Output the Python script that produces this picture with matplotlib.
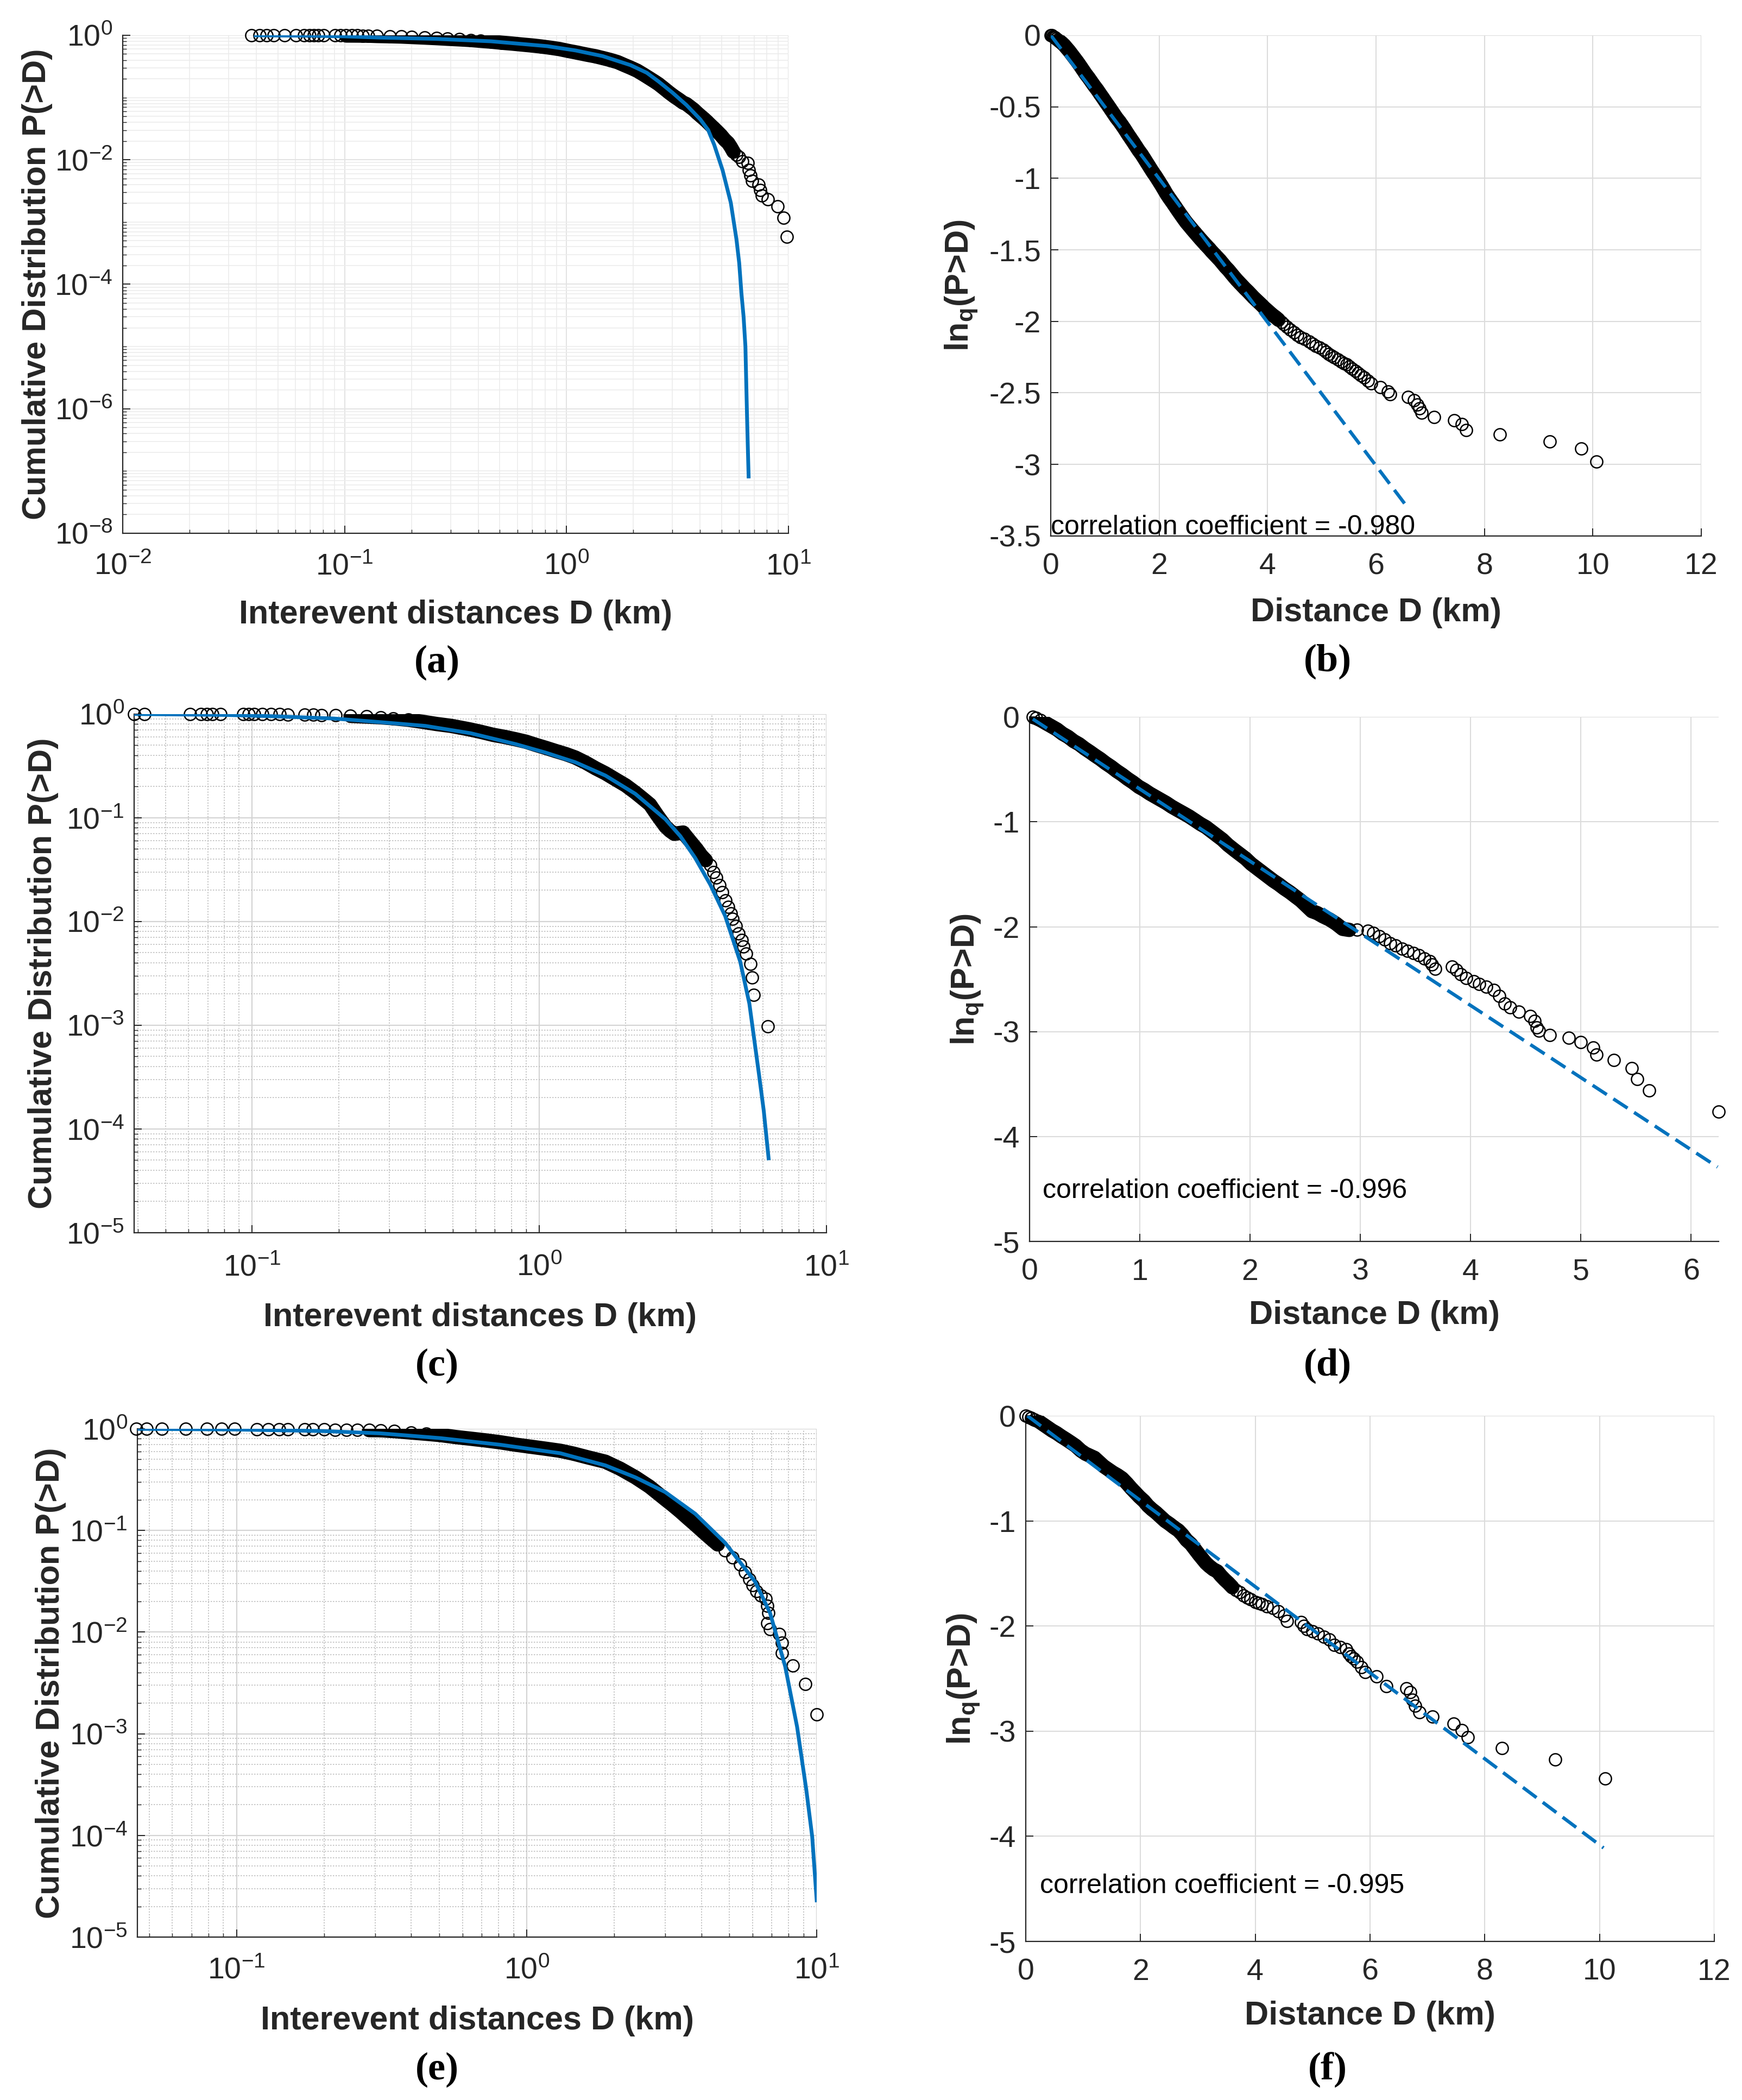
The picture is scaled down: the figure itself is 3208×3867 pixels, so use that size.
import matplotlib
matplotlib.use('Agg')
import matplotlib.pyplot as plt
from matplotlib.ticker import LogLocator, NullFormatter, FuncFormatter
import numpy as np

plt.rcParams['font.family'] = ['Liberation Sans', 'DejaVu Sans']
plt.rcParams['mathtext.fontset'] = 'custom'
plt.rcParams['mathtext.rm'] = 'Liberation Sans'
plt.rcParams['mathtext.bf'] = 'Liberation Sans:bold'
plt.rcParams['mathtext.it'] = 'Liberation Sans:italic'
plt.rcParams['axes.unicode_minus'] = False

# ---------------- panel (a): cumulative distribution, log-log ----------------
a_dist = [0.038, 0.0414, 0.0446, 0.0479, 0.0537, 0.0603, 0.0657, 0.0697, 0.0726, 0.076,
          0.0806, 0.0904, 0.0959, 0.1016, 0.1077, 0.1141, 0.1208, 0.128,
          0.14, 0.16, 0.18, 0.20, 0.23, 0.26, 0.29, 0.33, 0.37, 0.41, 0.46, 0.51, 0.57,
          0.63, 0.70, 0.77, 0.85, 0.93, 1.02, 1.12, 1.23, 1.35, 1.46, 1.58, 1.70, 1.83,
          1.95, 2.08, 2.22, 2.36, 2.50, 2.60, 2.75, 2.90, 3.06, 3.22, 3.35, 3.47, 3.60,
          3.74, 3.87, 4.01, 4.15, 4.30, 4.46, 4.63, 4.80, 4.98, 5.16, 5.35, 5.50, 5.65,
          5.83, 6.00, 6.18, 6.55, 6.64, 6.74, 6.84, 7.35, 7.46, 7.57, 8.06, 8.95, 9.53, 9.86]
a_prob = [1.0, 1.0, 0.999, 0.999, 0.998, 0.998, 0.997, 0.997, 0.996, 0.995,
          0.995, 0.994, 0.993, 0.992, 0.991, 0.99, 0.988, 0.986,
          0.975, 0.965, 0.955, 0.94, 0.92, 0.90, 0.88, 0.86, 0.84, 0.815, 0.79, 0.76, 0.735,
          0.71, 0.685, 0.66, 0.63, 0.60, 0.56, 0.525, 0.49, 0.46, 0.43, 0.40, 0.37, 0.33,
          0.30, 0.27, 0.235, 0.205, 0.18, 0.164, 0.14, 0.12, 0.104, 0.092, 0.083, 0.0785, 0.071,
          0.064, 0.057, 0.051, 0.046, 0.041, 0.036, 0.0318, 0.028, 0.0245, 0.021, 0.0186, 0.016, 0.0135,
          0.012, 0.011, 0.0095, 0.0089, 0.0068, 0.0056, 0.0046, 0.0040, 0.00326, 0.00267, 0.00233,
          0.00178, 0.00118, 0.00058]
a_fit_dist = [0.039, 0.07, 0.10, 0.145, 0.258, 0.458, 0.818, 1.10, 1.455, 1.945, 2.30, 2.60,
              3.00, 3.47, 4.01, 4.35, 4.63, 5.05, 5.50, 5.83, 6.00, 6.14, 6.28, 6.40, 6.45,
              6.50, 6.56, 6.62]
a_fit_prob = [1.0, 0.985, 0.96, 0.917, 0.875, 0.80, 0.669, 0.57, 0.463, 0.331, 0.25, 0.181,
              0.12, 0.0759, 0.0444, 0.030, 0.0174, 0.0068, 0.00204, 5.3e-4, 2.2e-4, 7.2e-5,
              3.0e-5, 1.0e-5, 3.0e-6, 9.1e-7, 2.5e-7, 7.6e-8]

# ---------------- panel (b): ln_q(P>D) vs distance ----------------
b_dist = [0.00, 0.02, 0.04, 0.06, 0.08, 0.10, 0.13, 0.16, 0.20, 0.25, 0.29, 0.34, 0.39, 0.44,
          0.49, 0.54, 0.59, 0.64, 0.70, 0.75, 0.80, 0.86, 0.91, 0.96, 1.01, 1.06, 1.11, 1.16,
          1.21, 1.27, 1.32, 1.37, 1.42, 1.47, 1.52, 1.57, 1.62, 1.68, 1.73, 1.78, 1.83, 1.88,
          1.94, 1.99, 2.04, 2.09, 2.14, 2.19, 2.25, 2.30, 2.35, 2.40, 2.45, 2.50, 2.56, 2.61,
          2.66, 2.71, 2.76, 2.81, 2.86, 2.92, 2.97, 3.02, 3.07, 3.12, 3.17, 3.22, 3.28, 3.33,
          3.38, 3.43, 3.48, 3.53, 3.58, 3.64, 3.69, 3.74, 3.79, 3.84, 3.89, 3.94, 4.00, 4.05,
          4.10, 4.15, 4.20, 4.26, 4.30, 4.36, 4.42, 4.49, 4.55, 4.61, 4.68, 4.77, 4.83, 4.89,
          4.96, 5.03, 5.08, 5.13, 5.18, 5.23, 5.30, 5.36, 5.41, 5.46, 5.51, 5.56, 5.62, 5.67,
          5.72, 5.78, 5.85, 5.91, 6.08, 6.22, 6.26, 6.59, 6.70, 6.76, 6.80, 6.84, 7.07, 7.44,
          7.58, 7.66, 8.28, 9.21, 9.79, 10.07]
b_lnq = [0.000, -0.002, -0.006, -0.010, -0.016, -0.022, -0.030, -0.040, -0.052, -0.070, -0.088,
         -0.110, -0.135, -0.160, -0.185, -0.212, -0.240, -0.268, -0.298, -0.325, -0.352, -0.382,
         -0.410, -0.437, -0.465, -0.492, -0.520, -0.548, -0.576, -0.605, -0.632, -0.660, -0.690,
         -0.718, -0.746, -0.775, -0.804, -0.835, -0.865, -0.895, -0.925, -0.955, -0.988, -1.018,
         -1.048, -1.080, -1.112, -1.140, -1.172, -1.200, -1.228, -1.255, -1.282, -1.308, -1.335,
         -1.358, -1.380, -1.402, -1.424, -1.445, -1.466, -1.490, -1.512, -1.532, -1.552, -1.572,
         -1.595, -1.618, -1.642, -1.665, -1.688, -1.710, -1.730, -1.750, -1.770, -1.792, -1.812,
         -1.832, -1.850, -1.868, -1.886, -1.905, -1.925, -1.942, -1.958, -1.972, -1.988, -2.006,
         -2.020, -2.040, -2.058, -2.078, -2.094, -2.110, -2.124, -2.140, -2.155, -2.170, -2.185,
         -2.200, -2.215, -2.228, -2.240, -2.252, -2.265, -2.280, -2.292, -2.302, -2.315, -2.330,
         -2.345, -2.360, -2.375, -2.392, -2.415, -2.435, -2.460, -2.490, -2.510, -2.530, -2.550,
         -2.580, -2.610, -2.640, -2.670, -2.690, -2.720, -2.760, -2.790, -2.840, -2.890, -2.980]
b_fit_dist = [0.0, 6.6]
b_fit_lnq = [0.0, -3.31]
b_corr = '-0.980'

# ---------------- panel (c) ----------------
c_dist = [0.0388, 0.0421, 0.0607, 0.0664, 0.0695, 0.0726, 0.0776, 0.0929, 0.0972, 0.1016,
          0.1086, 0.1163, 0.1244, 0.133, 0.152, 0.163, 0.174, 0.195, 0.22, 0.25,
          0.28, 0.31, 0.35, 0.40, 0.44, 0.49, 0.53, 0.576, 0.63, 0.69, 0.76, 0.826, 0.90, 0.97,
          1.05, 1.14, 1.24, 1.334, 1.45, 1.57, 1.70, 1.84, 2.00, 2.16, 2.30, 2.43, 2.58, 2.75,
          2.85, 2.95, 3.06, 3.17, 3.28, 3.40, 3.53, 3.67, 3.80, 3.94, 4.04, 4.13, 4.24, 4.34,
          4.45, 4.55, 4.64, 4.72, 4.83, 4.95, 5.07, 5.13, 5.26, 5.45, 5.52, 5.58, 6.25]
c_prob = [1.0, 1.0, 0.999, 0.999, 0.998, 0.998, 0.997, 0.996, 0.995, 0.995,
          0.994, 0.993, 0.992, 0.99, 0.985, 0.982, 0.978, 0.97, 0.96, 0.945,
          0.93, 0.91, 0.88, 0.834, 0.80, 0.77, 0.74, 0.708, 0.67, 0.63, 0.60, 0.571, 0.54, 0.505,
          0.473, 0.44, 0.41, 0.381, 0.34, 0.30, 0.268, 0.235, 0.205, 0.175, 0.152, 0.134, 0.105,
          0.0824, 0.075, 0.070, 0.071, 0.072, 0.064, 0.0567, 0.050, 0.0431, 0.039, 0.0348, 0.030,
          0.0265, 0.0225, 0.0192, 0.016, 0.0139, 0.012, 0.0106, 0.0091, 0.0077, 0.0066, 0.0057,
          0.0049, 0.0039, 0.0029, 0.00195, 0.00097]
c_fit_dist = [0.0388, 0.08, 0.12, 0.192, 0.28, 0.401, 0.576, 0.826, 1.05, 1.334, 1.70, 2.16,
              2.75, 3.10, 3.49, 3.94, 4.44, 5.01, 5.39, 5.82, 6.05, 6.30]
c_fit_prob = [1.0, 0.98, 0.95, 0.905, 0.834, 0.768, 0.653, 0.513, 0.425, 0.343, 0.255, 0.170,
              0.0967, 0.0664, 0.041, 0.0227, 0.0113, 0.0041, 0.00162, 3.4e-4, 1.5e-4, 5.0e-5]

# ---------------- panel (d) ----------------
d_dist = [0.03, 0.06, 0.10, 0.15, 0.20, 0.25, 0.30, 0.35, 0.40, 0.45, 0.50, 0.55, 0.59, 0.64,
          0.69, 0.74, 0.79, 0.84, 0.89, 0.94, 0.99, 1.04, 1.09, 1.14, 1.19, 1.24, 1.29, 1.34,
          1.40, 1.45, 1.50, 1.55, 1.60, 1.65, 1.70, 1.75, 1.80, 1.86, 1.91, 1.96, 2.01, 2.06,
          2.11, 2.16, 2.21, 2.26, 2.31, 2.36, 2.41, 2.46, 2.51, 2.56, 2.61, 2.66, 2.72, 2.78,
          2.84, 2.90, 2.97, 3.07, 3.12, 3.17, 3.22, 3.27, 3.32, 3.38, 3.43, 3.48, 3.53, 3.58,
          3.63, 3.65, 3.68, 3.83, 3.87, 3.91, 3.96, 4.03, 4.08, 4.14, 4.21, 4.26, 4.31, 4.36,
          4.44, 4.54, 4.58, 4.60, 4.62, 4.72, 4.89, 5.00, 5.11, 5.14, 5.30, 5.46, 5.51, 5.62, 6.25]
d_lnq = [0.0, -0.01, -0.03, -0.06, -0.09, -0.12, -0.16, -0.19, -0.23, -0.26, -0.30, -0.335,
         -0.365, -0.40, -0.44, -0.475, -0.515, -0.55, -0.59, -0.625, -0.665, -0.695, -0.73,
         -0.76, -0.79, -0.82, -0.855, -0.885, -0.92, -0.95, -0.985, -1.02, -1.05, -1.09, -1.13,
         -1.17, -1.22, -1.27, -1.31, -1.35, -1.40, -1.44, -1.48, -1.52, -1.56, -1.595, -1.635,
         -1.67, -1.71, -1.75, -1.80, -1.85, -1.87, -1.90, -1.93, -1.97, -2.02, -2.03, -2.03,
         -2.04, -2.06, -2.09, -2.12, -2.16, -2.18, -2.21, -2.23, -2.25, -2.27, -2.30, -2.33,
         -2.36, -2.40, -2.38, -2.41, -2.45, -2.49, -2.52, -2.545, -2.57, -2.60, -2.66, -2.73,
         -2.77, -2.81, -2.85, -2.90, -2.96, -2.99, -3.03, -3.06, -3.10, -3.15, -3.22, -3.27,
         -3.35, -3.45, -3.56, -3.76]
d_fit_dist = [0.03, 6.24]
d_fit_lnq = [-0.02, -4.29]
d_corr = '-0.996'

# ---------------- panel (e) ----------------
e_dist = [0.0451, 0.0489, 0.0553, 0.0667, 0.0789, 0.0886, 0.0985, 0.1175, 0.1284, 0.1403,
          0.150, 0.1714, 0.1832, 0.200, 0.2187, 0.239, 0.261, 0.286,
          0.313, 0.35, 0.40, 0.45, 0.504, 0.57, 0.64, 0.72, 0.811, 0.91, 1.02, 1.15, 1.306, 1.45,
          1.62, 1.866, 2.10, 2.37, 2.65, 3.00, 3.18, 3.38, 3.58, 3.81, 4.04, 4.29, 4.55, 4.83,
          5.12, 5.44, 5.65, 5.85, 6.02, 6.20, 6.40, 6.66, 6.74, 6.82, 6.74, 6.90, 7.41, 7.59,
          7.59, 8.25, 9.14, 9.98]
e_prob = [1.0, 1.0, 0.999, 0.999, 0.998, 0.997, 0.996, 0.995, 0.994, 0.993,
          0.992, 0.99, 0.988, 0.985, 0.982, 0.979, 0.975, 0.972,
          0.97, 0.95, 0.92, 0.895, 0.869, 0.83, 0.80, 0.77, 0.737, 0.70, 0.67, 0.64, 0.608, 0.57,
          0.525, 0.475, 0.405, 0.333, 0.27, 0.203, 0.178, 0.154, 0.133, 0.114, 0.098, 0.0843,
          0.073, 0.064, 0.054, 0.0461, 0.039, 0.0331, 0.029, 0.0253, 0.023, 0.0213, 0.0182,
          0.0154, 0.0123, 0.0107, 0.0096, 0.0079, 0.0062, 0.0047, 0.0031, 0.00155]
e_fit_dist = [0.0455, 0.10, 0.20, 0.313, 0.504, 0.811, 1.306, 1.866, 2.37, 3.00, 3.81, 4.83,
              6.13, 6.90, 7.78, 8.55, 9.20, 9.64, 10.0]
e_fit_prob = [1.0, 0.985, 0.95, 0.903, 0.81, 0.697, 0.575, 0.437, 0.333, 0.239, 0.146, 0.0755,
              0.0313, 0.0154, 0.00459, 0.00117, 2.8e-4, 9.7e-5, 2.2e-5]

# ---------------- panel (f) ----------------
f_dist = [0.00, 0.05, 0.10, 0.15, 0.22, 0.30, 0.38, 0.46, 0.54, 0.62, 0.71, 0.79, 0.87, 0.96,
          1.04, 1.12, 1.20, 1.28, 1.36, 1.44, 1.52, 1.60, 1.68, 1.76, 1.84, 1.91, 1.98, 2.06,
          2.13, 2.20, 2.27, 2.35, 2.43, 2.51, 2.58, 2.66, 2.73, 2.80, 2.88, 2.95, 3.02, 3.08,
          3.14, 3.20, 3.27, 3.34, 3.40, 3.47, 3.53, 3.60, 3.66, 3.73, 3.80, 3.86, 3.92, 4.00,
          4.06, 4.12, 4.20, 4.31, 4.40, 4.51, 4.55, 4.80, 4.85, 4.90, 5.00, 5.09, 5.20, 5.29,
          5.38, 5.48, 5.58, 5.63, 5.67, 5.72, 5.77, 5.85, 5.92, 6.11, 6.28, 6.63, 6.70, 6.74,
          6.79, 6.86, 7.09, 7.46, 7.60, 7.70, 8.30, 9.23, 10.10]
f_lnq = [0.00, -0.01, -0.02, -0.035, -0.05, -0.08, -0.11, -0.14, -0.165, -0.195, -0.226, -0.255,
         -0.285, -0.33, -0.36, -0.38, -0.40, -0.44, -0.48, -0.51, -0.54, -0.565, -0.595, -0.64,
         -0.69, -0.73, -0.77, -0.81, -0.855, -0.89, -0.92, -0.96, -1.00, -1.03, -1.06, -1.09,
         -1.13, -1.18, -1.22, -1.27, -1.32, -1.36, -1.40, -1.43, -1.46, -1.48, -1.52, -1.56,
         -1.59, -1.63, -1.66, -1.68, -1.71, -1.73, -1.745, -1.77, -1.78, -1.79, -1.81, -1.83,
         -1.86, -1.90, -1.95, -1.96, -2.00, -2.03, -2.05, -2.07, -2.10, -2.13, -2.18, -2.20,
         -2.22, -2.26, -2.29, -2.31, -2.34, -2.39, -2.44, -2.48, -2.57, -2.59, -2.63, -2.70,
         -2.76, -2.82, -2.86, -2.93, -2.99, -3.06, -3.16, -3.27, -3.45]
f_fit_dist = [0.03, 10.07]
f_fit_lnq = [0.0, -4.11]
f_corr = '-0.995'

cdf_xlabel = 'Interevent distances D (km)'
cdf_ylabel = 'Cumulative Distribution P(>D)'
lnq_xlabel = 'Distance D (km)'
lnq_ylabel = r'ln$_{\mathbf{q}}$(P>D)'
panel_tags = ['a', 'b', 'c', 'd', 'e', 'f']

BLUE = '#0072BD'
DARK = '#262626'

fig = plt.figure(figsize=(32.08, 38.67), dpi=100)

# axes boxes in figure fractions [left, bottom, width, height]
boxes = {
    'a': [0.0704, 0.7461, 0.3822, 0.2371],
    'b': [0.6032, 0.7448, 0.3734, 0.2384],
    'c': [0.0770, 0.4130, 0.3974, 0.2470],
    'd': [0.5910, 0.4088, 0.3956, 0.2498],
    'e': [0.0789, 0.0776, 0.3900, 0.2420],
    'f': [0.5888, 0.0755, 0.3953, 0.2503],
}


def base_style(ax):
    for s in ['top', 'right']:
        ax.spines[s].set_visible(False)
    for s in ['left', 'bottom']:
        ax.spines[s].set_color(DARK)
        ax.spines[s].set_linewidth(1.6)
    ax.tick_params(which='major', direction='in', length=10, width=1.4, colors=DARK,
                   labelsize=40, labelcolor=DARK)
    ax.tick_params(which='minor', direction='in', length=5, width=1.0, colors=DARK)
    ax.tick_params(axis='y', which='major', pad=13)
    ax.set_axisbelow(True)


def circles(ax, d, v, solid):
    # where hundreds of markers overlap the band reads as solid black
    lo, hi = solid
    xs = [x for x in d if lo <= x <= hi]
    ys = [y for x, y in zip(d, v) if lo <= x <= hi]
    ax.plot(xs, ys, '-', color='black', lw=19, solid_capstyle='round',
            solid_joinstyle='round', zorder=2.9)
    ax.plot(d, v, 'o', mfc='none', mec='black', ms=16, mew=1.8, clip_on=False, zorder=3)


def cdf_panel(ax, d, p, fd, fp, solid, xlim, ylim, xticks, yticks, dotted_minor, xpad, ylab_x, xlab_y):
    circles(ax, d, p, solid)
    ax.plot(fd, fp, '-', color=BLUE, lw=5, zorder=4, solid_capstyle='butt')
    ax.set_xscale('log')
    ax.set_yscale('log')
    ax.set_xlim(xlim)
    ax.set_ylim(ylim)
    ax.set_xticks(xticks)
    ax.set_yticks(yticks)
    ax.xaxis.set_minor_locator(LogLocator(base=10, subs=np.arange(1, 10), numticks=100))
    ax.yaxis.set_minor_locator(LogLocator(base=10, subs=np.arange(1, 10), numticks=100))
    ax.xaxis.set_minor_formatter(NullFormatter())
    ax.yaxis.set_minor_formatter(NullFormatter())
    base_style(ax)
    ax.tick_params(axis='x', which='major', pad=xpad)
    if dotted_minor:
        ax.grid(True, which='major', color='#d4d4d4', lw=1.6)
        ax.grid(True, which='minor', color='#bfbfbf', lw=1.2, ls=(0, (1.5, 1.5)))
    else:
        ax.grid(True, which='major', color='#e3e3e3', lw=1.4)
        ax.grid(True, which='minor', color='#ececec', lw=1.2)
    ax.set_xlabel(cdf_xlabel, fontsize=44, fontweight='bold', color=DARK)
    ax.set_ylabel(cdf_ylabel, fontsize=44, fontweight='bold', color=DARK)
    ax.xaxis.set_label_coords(0.5, xlab_y)
    ax.yaxis.set_label_coords(ylab_x, 0.5)


def lnq_panel(ax, d, v, fd, fv, solid, xlim, ylim, xticks, yticks, corr, corr_xy, corr_va, ylab_x, xlab_y):
    circles(ax, d, v, solid)
    ax.plot(fd, fv, color=BLUE, lw=4.5, dashes=(5, 2.3), zorder=4)
    ax.set_xlim(xlim)
    ax.set_ylim(ylim)
    ax.set_xticks(xticks)
    ax.set_yticks(yticks)
    fmt = FuncFormatter(lambda val, pos: '%g' % val)
    ax.xaxis.set_major_formatter(fmt)
    ax.yaxis.set_major_formatter(fmt)
    base_style(ax)
    ax.tick_params(axis='x', which='major', pad=22)
    ax.grid(True, which='major', color='#dcdcdc', lw=1.5)
    ax.text(corr_xy[0], corr_xy[1], 'correlation coefficient = ' + corr, fontsize=36,
            color='black', ha='left', va=corr_va, zorder=5)
    ax.set_xlabel(lnq_xlabel, fontsize=44, fontweight='bold', color=DARK)
    ax.set_ylabel(lnq_ylabel, fontsize=44, fontweight='bold', color=DARK)
    ax.xaxis.set_label_coords(0.5, xlab_y)
    ax.yaxis.set_label_coords(ylab_x, 0.5)


ax_a = fig.add_axes(boxes['a'])
cdf_panel(ax_a, a_dist, a_prob, a_fit_dist, a_fit_prob, (0.1, 5.7), (1e-2, 1e1), (1e-8, 1e0),
          [1e-2, 1e-1, 1e0, 1e1], [1e-8, 1e-6, 1e-4, 1e-2, 1e0], False, 26, -0.105, -0.133)

ax_b = fig.add_axes(boxes['b'])
lnq_panel(ax_b, b_dist, b_lnq, b_fit_dist, b_fit_lnq, (0.0, 4.2), (0, 12), (-3.5, 0),
          [0, 2, 4, 6, 8, 10, 12], [-3.5, -3, -2.5, -2, -1.5, -1, -0.5, 0],
          b_corr, (0.0, -3.49), 'baseline', -0.109, -0.123)

ax_c = fig.add_axes(boxes['c'])
cdf_panel(ax_c, c_dist, c_prob, c_fit_dist, c_fit_prob, (0.2, 3.9), (0.0388, 1e1), (1e-5, 1e0),
          [1e-1, 1e0, 1e1], [1e-5, 1e-4, 1e-3, 1e-2, 1e-1, 1e0], True, 28, -0.109, -0.134)

ax_d = fig.add_axes(boxes['d'])
lnq_panel(ax_d, d_dist, d_lnq, d_fit_dist, d_fit_lnq, (0.0, 2.9), (0, 6.25), (-5, 0),
          [0, 1, 2, 3, 4, 5, 6], [-5, -4, -3, -2, -1, 0],
          d_corr, (0.12, -4.52), 'center', -0.064, -0.112)

ax_e = fig.add_axes(boxes['e'])
cdf_panel(ax_e, e_dist, e_prob, e_fit_dist, e_fit_prob, (0.28, 4.6), (0.0455, 1e1), (1e-5, 1e0),
          [1e-1, 1e0, 1e1], [1e-5, 1e-4, 1e-3, 1e-2, 1e-1, 1e0], True, 26, -0.105, -0.135)

ax_f = fig.add_axes(boxes['f'])
lnq_panel(ax_f, f_dist, f_lnq, f_fit_dist, f_fit_lnq, (0.0, 3.6), (0, 12), (-5, 0),
          [0, 2, 4, 6, 8, 10, 12], [-5, -4, -3, -2, -1, 0],
          f_corr, (0.25, -4.475), 'center', -0.064, -0.113)

# sub-figure tags, centred under each panel
tag_pos = [(805, 1220), (2445, 1218), (805, 2515), (2445, 2515), (805, 3811), (2445, 3811)]
for tag, (px, py) in zip(panel_tags, tag_pos):
    fig.text(px / 3208, 1 - py / 3867, '(' + tag + ')', fontsize=52, fontweight='bold',
             family=['Liberation Serif', 'DejaVu Serif'], ha='center', va='center', color='black')

fig.savefig('out.png', dpi=100)
